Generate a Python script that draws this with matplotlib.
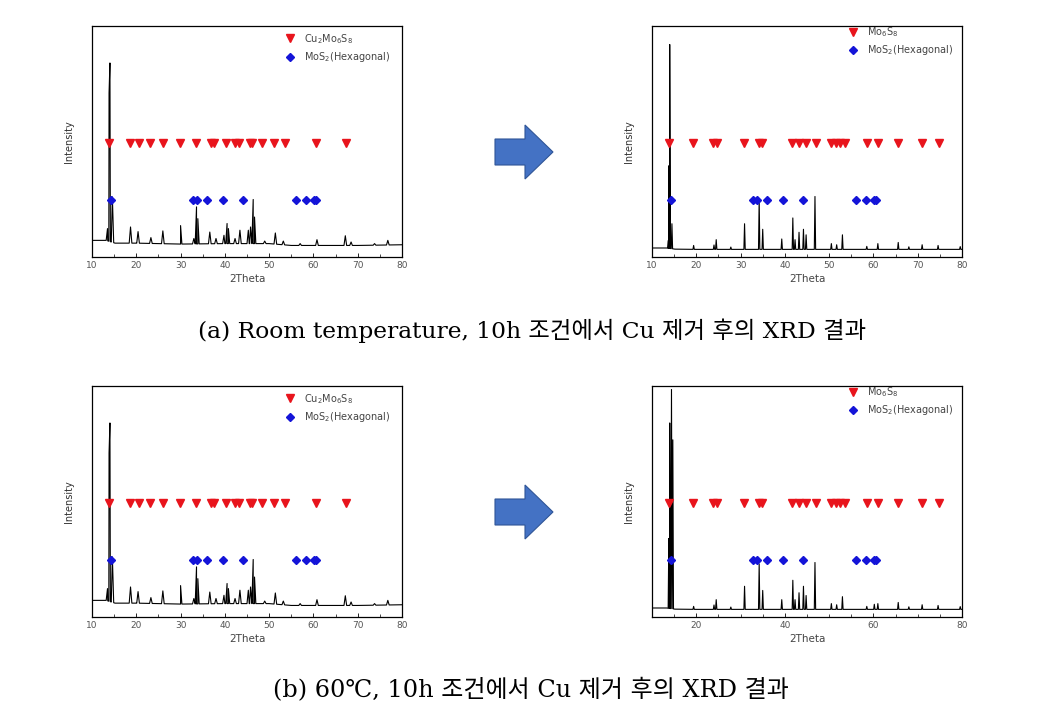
import numpy as np
import matplotlib
matplotlib.use("Agg")
from matplotlib import pyplot as plt
from matplotlib.patches import FancyArrow

# ---- data (intensity in arbitrary units, 0-100 = axis height) ----
# left panels: Cu2Mo6S8 sample before Cu removal
left_pk_x = [13.5, 13.85, 14.05, 14.6, 18.7, 20.4, 23.3, 26.0, 30.0, 33.0, 33.6, 33.9,
             36.6, 38.0, 39.8, 40.5, 40.8, 42.3, 43.4, 45.3, 45.8, 46.4, 46.7, 49.0,
             51.4, 53.2, 57.0, 60.8, 67.2, 68.5, 73.8, 76.8]
left_pk_y = [12.3, 71.0, 84.0, 26.0, 13.0, 11.0, 8.4, 11.3, 13.6, 8.0, 21.7, 16.6,
             10.8, 8.0, 9.4, 14.5, 12.3, 8.0, 11.6, 11.6, 13.0, 24.9, 17.3, 6.9,
             10.4, 6.9, 5.8, 7.5, 9.2, 6.5, 5.8, 7.2]
left_base_x = [10, 13.2, 15.2, 20, 30, 40, 50, 55, 70, 80]
left_base_y = [7.2, 7.2, 6.0, 6.0, 5.6, 5.8, 5.8, 5.0, 5.0, 5.3]

# right panels: after Cu removal (Mo6S8)
tr_pk_x = [13.7, 13.85, 14.0, 14.5, 19.4, 24.0, 24.5, 27.8, 30.9, 34.2, 35.0, 39.3,
           41.8, 42.3, 43.2, 44.2, 44.8, 46.8, 50.5, 51.7, 53.0, 58.5, 61.0, 65.6,
           68.0, 71.0, 74.6, 79.6]
tr_pk_y = [7.2, 39.5, 92.0, 14.4, 5.0, 5.2, 7.5, 4.3, 14.4, 25.0, 12.0, 7.8,
           16.9, 7.5, 10.7, 12.0, 9.6, 26.2, 5.8, 5.3, 9.6, 4.6, 5.8, 6.3,
           4.4, 5.3, 5.0, 4.5]
br_pk_x = [13.8, 14.0, 14.4, 14.7, 19.4, 24.0, 24.5, 27.8, 30.9, 34.2, 35.0, 39.3,
           41.8, 42.3, 43.2, 44.2, 44.8, 46.8, 50.5, 51.7, 53.0, 58.5, 60.2, 61.0,
           65.6, 68.0, 71.0, 74.6, 79.6]
br_pk_y = [34.0, 84.0, 98.5, 76.7, 4.6, 5.2, 7.5, 4.3, 13.3, 23.0, 11.5, 7.5,
           15.9, 7.5, 10.5, 13.3, 9.3, 23.6, 5.8, 5.3, 8.8, 4.6, 5.5, 5.8,
           6.3, 4.4, 5.3, 5.0, 4.5]
right_base_x = [10, 13.3, 15.2, 20, 80]
right_base_y = [3.9, 3.9, 3.4, 3.3, 3.3]

# reference lines (2Theta)
cu_ref = [13.84, 18.5, 20.5, 23.2, 26.1, 29.9, 33.55, 36.9, 37.5, 40.2, 42.2, 43.2,
          45.6, 46.2, 48.45, 51.2, 53.5, 60.5, 67.3]
mo6s8_ref = [13.8, 19.35, 23.8, 24.7, 30.7, 34.05, 34.9, 41.7, 43.25, 44.8, 46.95,
             50.4, 51.5, 52.5, 53.6, 58.5, 61.05, 65.6, 70.9, 74.7]
mos2_ref = [14.4, 32.8, 33.7, 36.0, 39.65, 44.1, 56.1, 58.4, 60.1, 60.6]

captions = ["(a) Room temperature, 10h 조건에서 Cu 제거 후의 XRD 결과",
            "(b) 60℃, 10h 조건에서 Cu 제거 후의 XRD 결과"]

RED_Y = 49.4
BLUE_Y = 24.6


def trace(px, py, bx, by, w):
    # each peak drawn as a narrow line between its feet on the baseline
    xs = list(bx)
    ys = list(by)
    for p, h in zip(px, py):
        for xx in (p - w, p + w):
            xs.append(xx)
            ys.append(float(np.interp(xx, bx, by)))
        xs.append(p)
        ys.append(h)
    order = np.argsort(xs, kind="stable")
    return np.array(xs)[order], np.array(ys)[order]


def panel(ax, px, py, bx, by, w, red_ref, red_label, major, leg_x, leg_y):
    x, y = trace(px, py, bx, by, w)
    ax.plot(x, y, color="black", lw=0.8)
    ax.plot(red_ref, [RED_Y] * len(red_ref), ls="none", marker="v", ms=5.5,
            color="#e8141c", label=red_label)
    ax.plot(mos2_ref, [BLUE_Y] * len(mos2_ref), ls="none", marker="D", ms=3.8,
            color="#1414d8", label=r"MoS$_2$(Hexagonal)")
    ax.set_xlim(10, 80)
    ax.set_ylim(0, 100)
    ax.set_yticks([])
    ax.set_xticks(np.arange(10 if major == 10 else 20, 81, major))
    ax.set_xticks(np.arange(10, 81, 5), minor=True)
    ax.tick_params(axis="x", direction="in", length=3, width=0.6, labelsize=6.5,
                   labelcolor="#555555", pad=3)
    ax.tick_params(axis="x", which="minor", direction="in", length=2, width=0.5)
    for s in ax.spines.values():
        s.set_linewidth(0.9)
    ax.set_xlabel("2Theta", fontsize=7.5, color="#444444", labelpad=3)
    ax.set_ylabel("Intensity", fontsize=7, color="#333333", labelpad=13)
    ax.legend(loc="upper left", bbox_to_anchor=(leg_x, leg_y), frameon=False,
              fontsize=7, handlelength=1.2, handletextpad=0.9, labelspacing=0.45,
              borderaxespad=0.2, labelcolor="#444444")


fig = plt.figure(figsize=(10.52, 7.16), dpi=100)

W = 310 / 1052
H = 231 / 716
ax1 = fig.add_axes([92 / 1052, 1 - 257 / 716, W, H])
ax2 = fig.add_axes([652 / 1052, 1 - 257 / 716, W, H])
ax3 = fig.add_axes([92 / 1052, 1 - 617 / 716, W, H])
ax4 = fig.add_axes([652 / 1052, 1 - 617 / 716, W, H])

panel(ax1, left_pk_x, left_pk_y, left_base_x, left_base_y, 0.3, cu_ref,
      r"Cu$_2$Mo$_6$S$_8$", 10, 0.6, 1.0)
panel(ax2, tr_pk_x, tr_pk_y, right_base_x, right_base_y, 0.15, mo6s8_ref,
      r"Mo$_6$S$_8$", 10, 0.61, 1.03)
panel(ax3, left_pk_x, left_pk_y, left_base_x, left_base_y, 0.3, cu_ref,
      r"Cu$_2$Mo$_6$S$_8$", 10, 0.6, 1.0)
panel(ax4, br_pk_x, br_pk_y, right_base_x, right_base_y, 0.15, mo6s8_ref,
      r"Mo$_6$S$_8$", 20, 0.61, 1.03)

# blue arrows between the panels
for yc in (152, 512):
    arr = FancyArrow(495 / 1052, 1 - yc / 716, 58 / 1052, 0, width=26 / 716,
                     head_width=54 / 716, head_length=28 / 1052,
                     length_includes_head=True, transform=fig.transFigure,
                     facecolor="#4472c4", edgecolor="#2f5597", lw=0.8)
    fig.add_artist(arr)

fig.text(0.506, 1 - 331 / 716, captions[0], ha="center", va="center", fontsize=16.8,
         family=["DejaVu Serif", "Noto Sans CJK KR"])
fig.text(0.505, 1 - 690 / 716, captions[1], ha="center", va="center", fontsize=17.3,
         family=["DejaVu Serif", "Noto Sans CJK KR"])

fig.savefig("out.png", dpi=100)
